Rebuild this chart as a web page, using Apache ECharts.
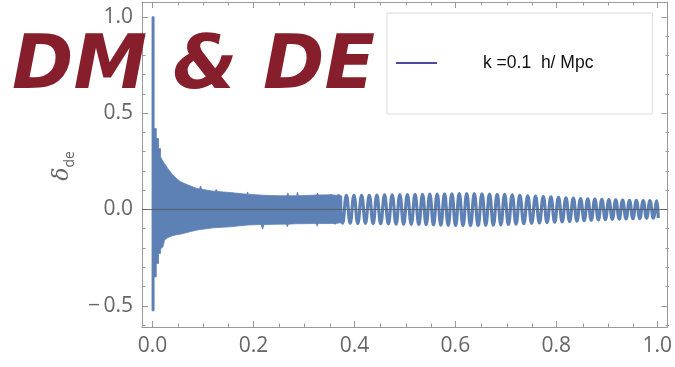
<!DOCTYPE html>
<html>
<head>
<meta charset="utf-8">
<script src="https://cdn.jsdelivr.net/npm/echarts@6/dist/echarts.min.js"></script>
<style>
  html, body { margin: 0; padding: 0; background: #fff; }
  #chart { width: 675px; height: 367px; }
</style>
</head>
<body>
<div id="chart"></div>
<script>
// Axis ranges and tick labels
const xRange = [-0.021, 1.02];
const yRange = [-0.61, 1.077];
const xMajorTicks = [0, 0.2, 0.4, 0.6, 0.8, 1.0];
const xMinorTicks = [0.05, 0.1, 0.15, 0.25, 0.3, 0.35, 0.45, 0.5, 0.55, 0.65, 0.7, 0.75, 0.85, 0.9, 0.95];
const yMajorTicks = [-0.5, 0, 0.5, 1.0];
const yMinorTicks = [-0.6, -0.4, -0.3, -0.2, -0.1, 0.1, 0.2, 0.3, 0.4, 0.6, 0.7, 0.8, 0.9];

const seriesName = 'k =0.1  h/ Mpc';

// Unresolved fast oscillation at early times: upper and lower envelope of the filled band
const upperX = [-0.0012, 0.0030, 0.0030, 0.0073, 0.0073, 0.0118, 0.0118, 0.0158, 0.0158, 0.0205, 0.0237,
  0.0304, 0.0402, 0.0546, 0.0665, 0.0876, 0.0930, 0.0950, 0.0975, 0.1197, 0.1240, 0.1260, 0.1290,
  0.1532, 0.1868, 0.1880, 0.1900, 0.2183, 0.2519, 0.2660, 0.2680, 0.2700, 0.2854, 0.2870, 0.2890,
  0.3169, 0.3250, 0.3270, 0.3290, 0.3505, 0.3650, 0.3750];
const upperY = [1.000, 1.000, 0.420, 0.420, 0.368, 0.368, 0.316, 0.316, 0.273, 0.250, 0.238,
  0.212, 0.178, 0.145, 0.131, 0.109, 0.106, 0.122, 0.105, 0.095, 0.094, 0.104, 0.093,
  0.088, 0.079, 0.091, 0.079, 0.074, 0.071, 0.071, 0.086, 0.071, 0.071, 0.090, 0.071,
  0.074, 0.075, 0.084, 0.075, 0.076, 0.074, 0.070];
const lowerX = [-0.0012, 0.0030, 0.0030, 0.0073, 0.0073, 0.0118, 0.0118, 0.0158, 0.0158, 0.0205, 0.0237,
  0.0304, 0.0402, 0.0546, 0.0876, 0.1197, 0.1532, 0.1868, 0.2150, 0.2180, 0.2210, 0.2519, 0.2650,
  0.2670, 0.2690, 0.2854, 0.3240, 0.3260, 0.3280, 0.3505, 0.3650, 0.3750];
const lowerY = [-0.526, -0.526, -0.350, -0.350, -0.280, -0.280, -0.228, -0.228, -0.205, -0.194, -0.159,
  -0.145, -0.135, -0.128, -0.107, -0.095, -0.090, -0.081, -0.078, -0.102, -0.078, -0.076, -0.076,
  -0.090, -0.076, -0.074, -0.073, -0.087, -0.073, -0.073, -0.072, -0.068];

// Resolved oscillation: successive maxima and minima
const waveX = [0.3460, 0.3536, 0.3612, 0.3688, 0.3764, 0.3840, 0.3915, 0.3990, 0.4066, 0.4142,
  0.4218, 0.4294, 0.4369, 0.4444, 0.4520,
  0.4596, 0.4672, 0.4748, 0.4824, 0.4899, 0.4974, 0.5049, 0.5125, 0.5201, 0.5275,
  0.5349, 0.5421, 0.5493, 0.5566, 0.5639, 0.5712, 0.5785, 0.5858, 0.5931, 0.6004,
  0.6077, 0.6151, 0.6225, 0.6300, 0.6375, 0.6451, 0.6527, 0.6602, 0.6677, 0.6752,
  0.6828, 0.6902, 0.6976, 0.7051, 0.7126, 0.7202, 0.7278, 0.7356, 0.7434, 0.7511,
  0.7588, 0.7665, 0.7742, 0.7817, 0.7893, 0.7968, 0.8043, 0.8117, 0.8191, 0.8264,
  0.8337, 0.8409, 0.8481, 0.8552, 0.8623, 0.8693, 0.8763, 0.8833, 0.8903, 0.8972,
  0.9041, 0.9110, 0.9178, 0.9246, 0.9314, 0.9382, 0.9450, 0.9518, 0.9586, 0.9654,
  0.9722, 0.9789, 0.9856, 0.9923, 0.9990, 1.0020];
const waveY = [-0.070, 0.072, -0.070, 0.072, -0.071, 0.073, -0.071, 0.073, -0.072, 0.074,
  -0.072, 0.074, -0.073, 0.075, -0.074,
  0.076, -0.075, 0.076, -0.076, 0.077, -0.076, 0.077, -0.077, 0.078, -0.078,
  0.079, -0.079, 0.080, -0.080, 0.080, -0.081, 0.081, -0.082, 0.081, -0.083,
  0.082, -0.083, 0.082, -0.083, 0.082, -0.083, 0.081, -0.082, 0.080, -0.081,
  0.079, -0.080, 0.078, -0.078, 0.076, -0.076, 0.074, -0.074, 0.071, -0.072,
  0.069, -0.070, 0.067, -0.068, 0.065, -0.066, 0.063, -0.064, 0.061, -0.062,
  0.059, -0.060, 0.057, -0.058, 0.055, -0.056, 0.054, -0.054, 0.052, -0.053,
  0.051, -0.051, 0.050, -0.050, 0.049, -0.049, 0.048, -0.048, 0.047, -0.047,
  0.046, -0.046, 0.046, -0.045, 0.045, -0.044];

const seriesColor = '#5e81b5';
const frameColor = '#9a9a9a';
const labelColor = '#666666';

const chart = echarts.init(document.getElementById('chart'), null, { renderer: 'canvas' });

const gridRect = { left: 142, right: 6, top: 2, bottom: 40 };
const fmt = v => (v < 0 ? '\u2212\u2009' + Math.abs(v).toFixed(1) : v.toFixed(1));

function xAx(grid, pos, ticks, len, withLine, withLabel) {
  return {
    type: 'value', gridIndex: grid, position: pos, min: xRange[0], max: xRange[1],
    axisLine: { show: withLine, onZero: false, lineStyle: { color: frameColor, width: 1 } },
    axisTick: { show: true, inside: true, length: len, customValues: ticks, lineStyle: { color: frameColor, width: 1 } },
    axisLabel: withLabel ? { show: true, customValues: ticks, formatter: fmt, color: labelColor,
      fontFamily: 'Open Sans', fontSize: 21, margin: 9 } : { show: false },
    splitLine: { show: false }, minorTick: { show: false }
  };
}
function yAx(grid, pos, ticks, len, withLine, withLabel) {
  return {
    type: 'value', gridIndex: grid, position: pos, min: yRange[0], max: yRange[1],
    axisLine: { show: withLine, onZero: false, lineStyle: { color: frameColor, width: 1 } },
    axisTick: { show: true, inside: true, length: len, customValues: ticks, lineStyle: { color: frameColor, width: 1 } },
    axisLabel: withLabel ? { show: true, customValues: ticks, formatter: fmt, color: labelColor,
      fontFamily: 'Open Sans', fontSize: 21, margin: 9 } : { show: false },
    splitLine: { show: false }, minorTick: { show: false }
  };
}

const option = {
  animation: false,
  backgroundColor: '#ffffff',
  grid: [Object.assign({}, gridRect), Object.assign({}, gridRect)],
  xAxis: [
    xAx(0, 'bottom', xMajorTicks, 6, true, true),
    xAx(0, 'top', xMajorTicks, 6, true, false),
    xAx(1, 'bottom', xMinorTicks, 3.5, false, false),
    xAx(1, 'top', xMinorTicks, 3.5, false, false)
  ],
  yAxis: [
    yAx(0, 'left', yMajorTicks, 6, true, true),
    yAx(0, 'right', yMajorTicks, 6, true, false),
    yAx(1, 'left', yMinorTicks, 3.5, false, false),
    yAx(1, 'right', yMinorTicks, 3.5, false, false)
  ],
  legend: {
    data: [{ name: seriesName, icon: 'rect', itemStyle: { color: '#4b4b9e' } }],
    left: 387, top: 13,
    padding: [41, 59, 42, 9],
    itemWidth: 41, itemHeight: 2,
    backgroundColor: '#ffffff', borderColor: '#dcdcdc', borderWidth: 1, borderRadius: 0,
    selectedMode: false,
    textStyle: { color: '#111', fontFamily: 'Liberation Sans', fontSize: 17.5, padding: [0, 0, 0, 41] }
  },
  graphic: [
    {
      type: 'text', x: 62, y: 166, rotation: Math.PI / 2, z: 50,
      style: {
        text: '{a|δ}{b|de}', fill: labelColor, align: 'center', verticalAlign: 'middle',
        rich: {
          a: { fontFamily: 'DejaVu Serif', fontStyle: 'italic', fontSize: 22, fill: labelColor, verticalAlign: 'bottom' },
          b: { fontFamily: 'Open Sans', fontSize: 14, fill: labelColor, verticalAlign: 'bottom', padding: [0, 0, -4, 0] }
        }
      }
    },
    {
      type: 'text', x: 12, y: 69, z: 100,
      style: {
        text: 'DM & DE', fill: '#861f2b',
        font: 'italic bold 74px "DejaVu Sans"',
        align: 'left', verticalAlign: 'middle'
      }
    }
  ],
  series: [
    {
      name: 'band', type: 'custom', xAxisIndex: 0, yAxisIndex: 0, z: 2, silent: true,
      data: [[0, 0]],
      renderItem: function (params, api) {
        const pts = [];
        for (let i = 0; i < upperX.length; i++) pts.push(api.coord([upperX[i], upperY[i]]));
        for (let i = lowerX.length - 1; i >= 0; i--) pts.push(api.coord([lowerX[i], lowerY[i]]));
        return { type: 'polygon', shape: { points: pts }, style: { fill: seriesColor, stroke: seriesColor, lineWidth: 0.8 } };
      }
    },
    {
      name: seriesName, type: 'line', xAxisIndex: 0, yAxisIndex: 0, z: 3,
      data: waveX.map((x, i) => [x, waveY[i]]),
      showSymbol: false, symbol: 'none', smooth: 0.45,
      lineStyle: { color: seriesColor, width: 3.2 },
      itemStyle: { color: seriesColor },
      markLine: {
        silent: true, symbol: 'none', label: { show: false },
        lineStyle: { color: 'rgba(85,85,85,0.8)', width: 1, type: 'solid' },
        data: [{ yAxis: 0 }]
      }
    }
  ]
};
chart.setOption(option);
</script>
</body>
</html>
